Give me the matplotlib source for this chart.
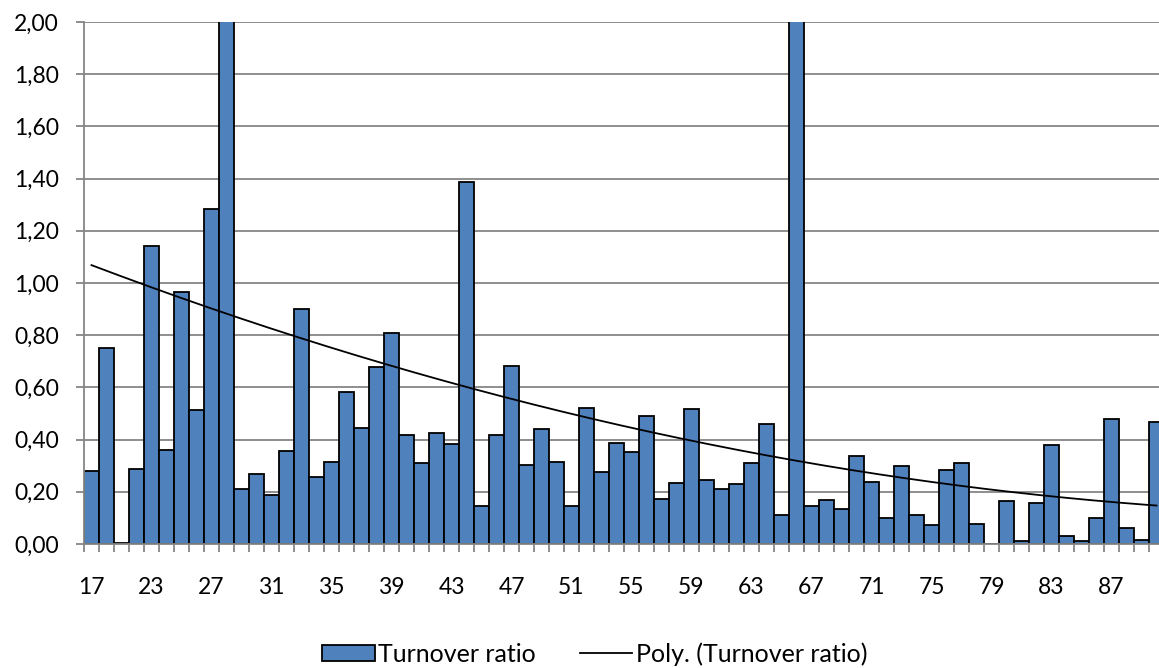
import numpy as np
import matplotlib
matplotlib.use("Agg")
import matplotlib.pyplot as plt
from matplotlib.patches import Patch
from matplotlib.lines import Line2D
from matplotlib.ticker import FixedLocator, FuncFormatter

plt.rcParams['font.family'] = ['Lato', 'DejaVu Sans']

ages = [17, 19, 20, 22, 23, 24, 25, 26, 27, 28, 29, 30, 31, 32, 33, 34, 35, 36,
        37, 38, 39, 40, 41, 42, 43, 44, 45, 46, 47, 48, 49, 50, 51, 52, 53, 54,
        55, 56, 57, 58, 59, 60, 61, 62, 63, 64, 65, 66, 67, 68, 69, 70, 71, 72,
        73, 74, 75, 76, 77, 78, 79, 80, 81, 82, 83, 84, 85, 86, 87, 88, 89, 90]
turnover = [0.281, 0.752, 0.004, 0.287, 1.142, 0.360, 0.965, 0.513, 1.284, 8.80,
            0.210, 0.268, 0.186, 0.356, 0.901, 0.255, 0.316, 0.582, 0.444, 0.680,
            0.808, 0.419, 0.311, 0.427, 0.384, 1.387, 0.145, 0.419, 0.683, 0.301,
            0.441, 0.314, 0.146, 0.521, 0.277, 0.387, 0.352, 0.492, 0.171, 0.234,
            0.517, 0.246, 0.209, 0.229, 0.310, 0.460, 0.111, 2.93, 0.146, 0.169,
            0.135, 0.338, 0.239, 0.098, 0.297, 0.113, 0.074, 0.282, 0.310, 0.076,
            0.0, 0.166, 0.013, 0.157, 0.381, 0.030, 0.010, 0.100, 0.480, 0.063,
            0.017, 0.466]
y_ticks = [0.0, 0.2, 0.4, 0.6, 0.8, 1.0, 1.2, 1.4, 1.6, 1.8, 2.0]
label_every = 4
series_name = "Turnover ratio"
trend_name = "Poly. (Turnover ratio)"

bar_color = "#4F81BD"
grid_color = "#868686"

W, H = 1159, 668
fig = plt.figure(figsize=(W / 100, H / 100), dpi=100)
ax = fig.add_axes([84 / W, (H - 544) / H, 1080 / W, 522 / H])

idx = np.arange(len(turnover))
vals = np.array(turnover)
ax.bar(idx, vals, width=1.0, color=bar_color, edgecolor="black", linewidth=1.3, zorder=3)

# polynomial (order 2) trendline, as the spreadsheet computes it
coef = np.polyfit(idx, vals, 2)
xs = np.linspace(idx[0], idx[-1], 400)
ax.plot(xs, np.polyval(coef, xs), color="black", linewidth=1.3, zorder=4)

ax.set_xlim(-0.5, len(turnover) - 0.5)
ax.set_ylim(y_ticks[0], y_ticks[-1])

for s in ["top", "right"]:
    ax.spines[s].set_visible(False)
for s in ["left", "bottom"]:
    ax.spines[s].set_color(grid_color)
    ax.spines[s].set_linewidth(1.3)
    ax.spines[s].set_zorder(5)

ax.set_yticks(y_ticks)
ax.yaxis.set_major_formatter(FuncFormatter(lambda v, p: ("%.2f" % v).replace(".", ",")))
ax.yaxis.grid(True, color=grid_color, linewidth=1.3, zorder=0)
ax.set_axisbelow(True)
ax.tick_params(axis="y", direction="out", length=6, width=1.3, color=grid_color,
               labelsize=16.5, pad=12, labelcolor="black")

# category boundary ticks (major), labels at category centers (minor)
ax.xaxis.set_major_locator(FixedLocator(np.arange(-0.5, len(turnover), 1.0)))
ax.xaxis.set_major_formatter(FuncFormatter(lambda v, p: ""))
lab_pos = idx[::label_every]
ax.xaxis.set_minor_locator(FixedLocator(lab_pos))
ax.xaxis.set_minor_formatter(FuncFormatter(lambda v, p: str(ages[int(round(v))])))
ax.tick_params(axis="x", which="major", direction="out", length=6, width=1.3, color=grid_color)
ax.tick_params(axis="x", which="minor", length=0, labelsize=16.5, pad=24)

handles = [Patch(facecolor=bar_color, edgecolor="black", linewidth=1.3),
           Line2D([0], [0], color="black", linewidth=1.3)]
fig.legend(handles, [series_name, trend_name], loc="center", bbox_to_anchor=(595 / W, 14 / H),
           ncol=2, frameon=False, fontsize=18, handlelength=2.1, handleheight=0.65,
           handletextpad=0.15, columnspacing=1.75, borderpad=0, borderaxespad=0)

fig.savefig("out.png", dpi=100)
